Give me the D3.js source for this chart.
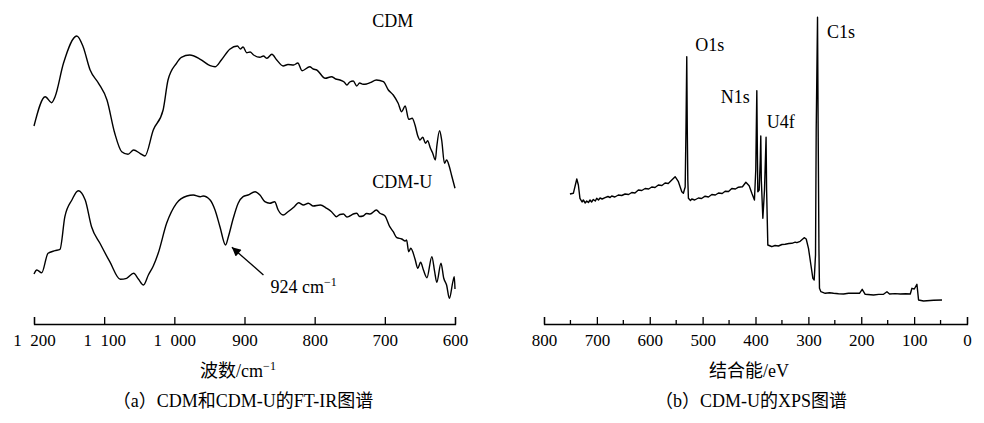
<!DOCTYPE html>
<html>
<head>
<meta charset="utf-8">
<script src="https://cdn.jsdelivr.net/npm/d3@7"></script>
<style>
  body { margin: 0; background: #fff; }
  svg { font-family: "Liberation Serif", "Times New Roman", Times, serif; }
  svg text { fill: #000; }
</style>
</head>
<body>
<svg id="chart" width="984" height="423"></svg>
<script>
// FT-IR spectra, [wavenumber cm-1, relative transmittance (a.u.)]
var cdm = [
  [1200, 204], [1184, 233.3], [1175, 227.3], [1170, 233.3], [1158, 266.7], [1139, 294],
  [1130, 283.3], [1120, 260], [1108, 246.7], [1096, 230], [1085, 197], [1075, 178.3],
  [1066, 175.7], [1058, 180], [1049, 176.7], [1042, 174], [1030, 200], [1016, 220],
  [1009, 250], [997, 266.7], [990, 272.7], [978, 275], [963, 270.7], [949, 264.3],
  [942, 263.3], [933, 270], [921, 280.7], [910, 284], [906, 281], [902, 283], [897, 277.3],
  [892, 278], [887, 275], [878, 272.7], [873, 274], [868, 271.7], [861, 275.7], [854, 270],
  [845, 264], [838, 265.5], [830, 265], [824, 267], [818, 259.3], [807, 263.3], [802, 261],
  [797, 260], [785, 251.7], [776, 253.3], [770, 251], [764, 250], [758, 248], [754, 245],
  [750, 248], [745, 249], [740, 244], [736, 247], [731, 245.7], [726, 246], [721, 247.3],
  [712, 250], [702, 248.3], [695, 240], [688, 235], [681, 226.7], [676, 218.3],
  [671, 224], [666, 210.7], [661, 211.7], [657, 205], [653, 194], [650, 190],
  [646, 192.7], [642, 186.7], [639, 189.3], [635, 181.7], [632, 177.3], [628, 170],
  [626, 183.3], [622, 199.3], [619, 190], [615, 166.7], [612, 170], [608, 163.3],
  [605, 155], [600, 141.7]
];
var cdmU = [
  [1200, 56], [1196, 60], [1189, 57.3], [1180, 76.7], [1170, 79.3], [1163, 80.7],
  [1156, 113.3], [1146, 130], [1137, 139.3], [1127, 130], [1118, 103.3], [1106, 86.7],
  [1092, 68.3], [1077, 50.7], [1068, 51.7], [1058, 56.7], [1051, 50.7], [1044, 45],
  [1037, 55], [1030, 64], [1023, 76.7], [1011, 106.7], [997, 126.7], [982, 134],
  [973, 135], [963, 133.3], [959, 134], [949, 130], [942, 120], [935, 103.3],
  [927, 85], [923, 93.3], [916, 111.7], [909, 126.7], [902, 133.3], [895, 135],
  [885, 138.3], [878, 135], [871, 128.3], [864, 126.7], [857, 128.3], [852, 120],
  [845, 115], [838, 118.3], [829, 123.3], [823, 127.3], [816, 125], [809, 126.7],
  [802, 124], [792, 125], [783, 121.7], [776, 118.3], [769, 113.3], [764, 115.5], [759, 116],
  [754, 113], [750, 114], [745, 116], [740, 116.7], [736, 113.5], [731, 114], [726, 116.5],
  [721, 116], [712, 120], [707, 116.7],
  [700, 114.3], [693, 103.3], [688, 98.3], [683, 92.3], [676, 91], [671, 89],
  [669, 90], [666, 78.3], [663, 81.7], [657, 71], [653, 61.7], [649, 67.7],
  [645, 60], [640, 52.3], [633, 73.3], [629, 58.3], [626, 47.7], [620, 66.7],
  [616, 51.7], [612, 45], [608, 31.7], [603, 48.3], [601, 53.3], [600, 41]
];

// XPS survey of CDM-U, [binding energy eV, intensity (a.u.)]
var xps = [
  [751, 136], [744.5, 136.7], [738, 151], [735, 145], [732, 131.7], [728, 128], [725.6, 130],
  [722, 127], [719.2, 129], [716, 127.5], [712.9, 130], [710, 128], [706.7, 130.5], [703, 129],
  [700.3, 131.7], [697, 130], [694, 132], [690, 131], [684.5, 132.3], [679, 133.5], [675, 132.5],
  [671.9, 134], [666, 133], [659.4, 135], [653, 134.5], [646.7, 136], [640, 135.5], [634, 137.5],
  [628, 137], [621.5, 140], [615, 139.5], [608.8, 141.5], [602, 141], [596.2, 143],
  [590, 142.5], [583.7, 145], [577, 144.5], [571, 147], [565, 146.5], [558.3, 150], [552, 153.3], [545.8, 148.3],
  [539.4, 138.3], [536.4, 136.7], [533, 143], [531.5, 200], [530, 273.3], [529, 200],
  [528, 150], [526.9, 131.7], [523, 129.5], [520.5, 131], [515, 130], [508, 132], [502, 131.5],
  [495.3, 133.8], [489, 133], [482.6, 135.5], [476, 135], [470, 137], [463, 136.5],
  [457.4, 138.8], [451, 138.5], [444.8, 141.5], [438, 141], [432.3, 142.8], [424.7, 143.3], [418.2, 147.7],
  [412, 144.3], [406.9, 136.7], [402, 130], [399.5, 160], [398.5, 200], [397.5, 239.3],
  [396.5, 180], [395.6, 138.3], [393, 140], [391, 170], [390, 194], [389, 150],
  [386.1, 111.7], [383, 140], [381, 175], [380, 192.7], [379, 140], [376.7, 85],
  [372, 84], [369.1, 83.3], [363, 84.5], [356.6, 84], [350, 85.5], [343.9, 85.7], [337, 86.5],
  [331.2, 86.7], [325, 87.8], [321.7, 87.3], [315.5, 88.7],
  [307.9, 92.3], [304.1, 91], [299.8, 81.7], [295.2, 65], [291.5, 51.7], [289, 50],
  [286.5, 75], [285.2, 200], [282.7, 312.7], [281.5, 200], [280, 80], [279, 41.7],
  [276.3, 38.3], [268.2, 36.7], [260, 37.3], [252.4, 36.7], [243, 36.2], [233.5, 36], [224, 36.8],
  [214.6, 36.7], [203.3, 36.7],
  [198.2, 40.7], [192.5, 35.7], [176.8, 35], [167, 35.6], [157.9, 35.7], [151.4, 38.3], [146.5, 36],
  [136, 36.4], [126.2, 36], [116, 36.3], [107.3, 36], [104.1, 41.7], [99.7, 41], [94.7, 45.7], [91.6, 30],
  [82.2, 29], [63.2, 29.7], [47.3, 30]
];

var irTicks = [1200, 1100, 1000, 900, 800, 700, 600];
var xpsTicks = [800, 700, 600, 500, 400, 300, 200, 100, 0];
var xpsMinorTicks = [750, 650, 550, 450, 350, 250, 150, 50];

// curve labels: [x, y, text]
var irLabels = [[718, 303, "CDM"], [718, 142, "CDM-U"]];
var xpsLabels = [[514, 279, "O1s"], [465.5, 227, "N1s"], [378.5, 202, "U4f"], [265, 292, "C1s"]];
// arrow for the 924 band: tail, tip, label position
var irArrow = {tail: [873, 55], tip: [918, 82.7], label: [863, 37.3]};

var svg = d3.select("#chart");
var axisY = 324;
var cjkFont = "Noto Sans CJK SC";

// split a string into latin / CJK runs so each gets its own font
function mixedText(sel, str) {
  var runs = str.match(/[\u3000-\u9fff\uff00-\uffef]+|[^\u3000-\u9fff\uff00-\uffef]+/g);
  runs.forEach(function(r) {
    var t = sel.append("tspan").text(r);
    if (/[\u3000-\u9fff\uff00-\uffef]/.test(r)) t.attr("font-family", cjkFont);
  });
  return sel;
}

svg.append("defs").append("marker")
    .attr("id", "arrowHead")
    .attr("viewBox", "0 0 10 10")
    .attr("refX", 10).attr("refY", 5)
    .attr("markerUnits", "userSpaceOnUse")
    .attr("markerWidth", 12).attr("markerHeight", 9)
    .attr("orient", "auto")
  .append("path")
    .attr("d", "M0,0 L10,5 L0,10 Z")
    .attr("fill", "#000");

var y = d3.scaleLinear().domain([0, 330]).range([330, 0]);

function drawCurve(data, x, curve) {
  var line = d3.line().curve(curve)
      .x(function(d) { return x(d[0]); }).y(function(d) { return y(d[1]); });
  svg.append("path")
      .datum(data)
      .attr("d", line)
      .attr("fill", "none")
      .attr("stroke", "#000")
      .attr("stroke-width", 1.4)
      .attr("stroke-linejoin", "round");
}

function drawAxis(x, ticks, fmt) {
  var g = svg.append("g")
      .attr("transform", "translate(0," + axisY + ")")
      .call(d3.axisBottom(x).tickValues(ticks).tickFormat(fmt)
        .tickSizeInner(-7).tickSizeOuter(-7).tickPadding(10));
  g.attr("font-family", null);
  g.select(".domain").attr("stroke-width", 1.3);
  g.selectAll(".tick line").attr("stroke-width", 1.3);
  g.selectAll(".tick text").attr("font-size", 17);
  return g;
}

// ---- (a) FT-IR ----
var xIR = d3.scaleLinear().domain([1200, 600]).range([34, 455]);

drawCurve(cdm, xIR, d3.curveMonotoneX);
drawCurve(cdmU, xIR, d3.curveMonotoneX);

drawAxis(xIR, irTicks, function(d) {
  return d >= 1000 ? Math.floor(d / 1000) + "\u2002" + d3.format("03d")(d % 1000) : String(d);
});

svg.selectAll(".irLabel")
  .data(irLabels)
  .enter().append("text")
    .attr("class", "irLabel")
    .attr("x", function(d) { return xIR(d[0]); })
    .attr("y", function(d) { return y(d[1]); })
    .attr("font-size", 18)
    .text(function(d) { return d[2]; });

svg.append("line")
    .attr("x1", xIR(irArrow.tail[0])).attr("y1", y(irArrow.tail[1]))
    .attr("x2", xIR(irArrow.tip[0])).attr("y2", y(irArrow.tip[1]))
    .attr("stroke", "#000").attr("stroke-width", 1.3)
    .attr("marker-end", "url(#arrowHead)");

var ann = svg.append("text")
    .attr("x", xIR(irArrow.label[0]))
    .attr("y", y(irArrow.label[1]))
    .attr("font-size", 18);
ann.append("tspan").text("924 cm");
ann.append("tspan").attr("dy", -7).attr("font-size", 12).text("\u22121");

var irTitle = svg.append("text")
    .attr("x", 238).attr("y", 377)
    .attr("text-anchor", "middle")
    .attr("font-size", 18);
mixedText(irTitle, "波数/cm");
irTitle.append("tspan").attr("dy", -7).attr("font-size", 12).text("\u22121");

mixedText(svg.append("text")
    .attr("x", 243).attr("y", 407)
    .attr("text-anchor", "middle")
    .attr("font-size", 18), "（a）CDM和CDM-U的FT-IR图谱");

// ---- (b) XPS ----
var xXPS = d3.scaleLinear().domain([800, 0]).range([544, 967]);

drawCurve(xps, xXPS, d3.curveLinear);

var gx = drawAxis(xXPS, xpsTicks, d3.format("d"));
gx.selectAll(".minor")
  .data(xpsMinorTicks)
  .enter().append("line")
    .attr("class", "minor")
    .attr("x1", function(d) { return xXPS(d); })
    .attr("x2", function(d) { return xXPS(d); })
    .attr("y1", 0).attr("y2", -4)
    .attr("stroke", "#000").attr("stroke-width", 1.3);

svg.selectAll(".xpsLabel")
  .data(xpsLabels)
  .enter().append("text")
    .attr("class", "xpsLabel")
    .attr("x", function(d) { return xXPS(d[0]); })
    .attr("y", function(d) { return y(d[1]); })
    .attr("font-size", 18)
    .text(function(d) { return d[2]; });

mixedText(svg.append("text")
    .attr("x", 749).attr("y", 377)
    .attr("text-anchor", "middle")
    .attr("font-size", 18), "结合能/eV");

mixedText(svg.append("text")
    .attr("x", 751).attr("y", 407)
    .attr("text-anchor", "middle")
    .attr("font-size", 18), "（b）CDM-U的XPS图谱");
</script>
</body>
</html>
